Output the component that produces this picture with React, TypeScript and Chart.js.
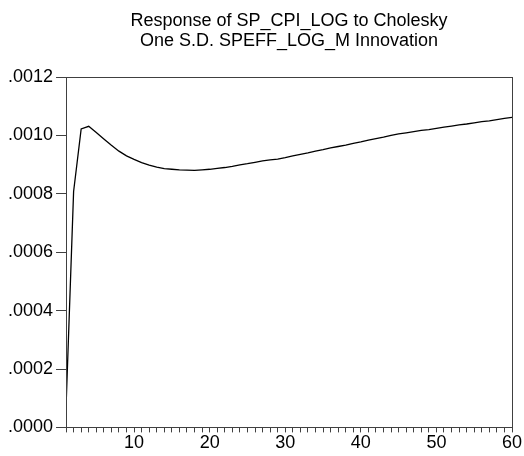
import React, { useEffect, useRef } from "react";
import { Chart, registerables } from "chart.js";

Chart.register(...registerables);

const titleLines: string[] = [
  "Response of SP_CPI_LOG to Cholesky",
  "One S.D. SPEFF_LOG_M Innovation",
];

const periods: number[] = Array.from({ length: 60 }, (_, i) => i + 1);

const response: number[] = [
  0.00007, 0.000808, 0.001022, 0.001031, 0.00101, 0.000988, 0.000966, 0.000946, 0.00093, 0.000918,
  0.000907, 0.000898, 0.000891, 0.000886, 0.000884, 0.000882, 0.000881, 0.00088, 0.000882, 0.000884,
  0.000887, 0.00089, 0.000894, 0.000899, 0.000903, 0.000908, 0.000913, 0.000916, 0.000919, 0.000924,
  0.00093, 0.000935, 0.00094, 0.000946, 0.000951, 0.000957, 0.000962, 0.000967, 0.000973, 0.000978,
  0.000984, 0.000989, 0.000994, 0.001, 0.001005, 0.001009, 0.001013, 0.001017, 0.00102, 0.001024,
  0.001028, 0.001032, 0.001036, 0.001039, 0.001043, 0.001047, 0.00105, 0.001054, 0.001058, 0.001062,
];

const xLabelTicks: number[] = [10, 20, 30, 40, 50, 60];
const yMin = 0;
const yMax = 0.0012;
const yStep = 0.0002;

const FONT = "'Liberation Sans', Arial, sans-serif";

const framePlugin = {
  id: "frameAndTitle",
  afterDraw(chart: any) {
    const { ctx, chartArea } = chart;
    ctx.save();
    ctx.strokeStyle = "#404040";
    ctx.lineWidth = 1;
    ctx.strokeRect(
      Math.round(chartArea.left) + 0.5,
      Math.round(chartArea.top) + 0.5,
      Math.round(chartArea.right - chartArea.left),
      Math.round(chartArea.bottom - chartArea.top)
    );
    ctx.fillStyle = "#000";
    ctx.font = `18px ${FONT}`;
    ctx.textAlign = "center";
    ctx.textBaseline = "middle";
    const cx = (chartArea.left + chartArea.right) / 2;
    titleLines.forEach((line, i) => {
      ctx.fillText(line, cx, 21 + i * 20);
    });
    ctx.restore();
  },
};

export default function App() {
  const canvasRef = useRef<HTMLCanvasElement | null>(null);

  useEffect(() => {
    if (!canvasRef.current) return;
    const chart = new Chart(canvasRef.current, {
      type: "line",
      data: {
        datasets: [
          {
            data: periods.map((p, i) => ({ x: p, y: response[i] })),
            borderColor: "#000",
            borderWidth: 1.3,
            pointRadius: 0,
            tension: 0,
            fill: false,
          },
        ],
      },
      options: {
        animation: false,
        responsive: false,
        maintainAspectRatio: false,
        layout: { padding: { top: 77, left: 5, right: 12, bottom: 2 } },
        plugins: {
          legend: { display: false },
          tooltip: { enabled: false },
          title: { display: false },
        },
        scales: {
          x: {
            type: "linear",
            min: 1,
            max: 60,
            border: { display: false },
            grid: {
              drawOnChartArea: false,
              drawTicks: true,
              tickLength: 5,
              tickColor: "#404040",
            },
            ticks: {
              stepSize: 1,
              autoSkip: false,
              maxRotation: 0,
              padding: 0,
              color: "#000",
              font: { family: FONT, size: 18 },
              callback: (v: any) => (xLabelTicks.includes(Number(v)) ? String(v) : ""),
            },
          },
          y: {
            min: yMin,
            max: yMax,
            border: { display: false },
            grid: {
              drawOnChartArea: false,
              drawTicks: true,
              tickLength: 10,
              tickColor: "#404040",
            },
            ticks: {
              stepSize: yStep,
              padding: 3,
              color: "#000",
              font: { family: FONT, size: 18 },
              callback: (v: any) => Number(v).toFixed(4).replace(/^0/, ""),
            },
          },
        },
      },
      plugins: [framePlugin],
    });
    return () => chart.destroy();
  }, []);

  return (
    <div style={{ position: "absolute", left: 0, top: 0, width: 524, height: 456, background: "#fff" }}>
      <canvas ref={canvasRef} width={524} height={456} style={{ display: "block" }} />
    </div>
  );
}
